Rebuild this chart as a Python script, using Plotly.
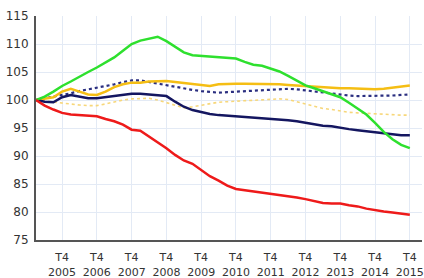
import plotly.graph_objects as go

quarters = list(range(44))  # 2005 T1 .. 2015 T4
tick_pos = [3 + 4 * k for k in range(11)]
tick_labels = ["T4<br>%d" % y for y in range(2005, 2016)]

green = [100, 100.6, 101.5, 102.5, 103.3, 104.2, 105, 105.8, 106.7, 107.6, 108.8, 110,
         110.6, 111, 111.3, 110.5, 109.5, 108.5, 108, 107.9, 107.8, 107.7, 107.6, 107.4,
         106.8, 106.3, 106.1, 105.6, 105.1, 104.3, 103.4, 102.6, 102.1, 101.6, 101.1, 100.5,
         99.5, 98.4, 97.4, 95.9, 94.3, 93, 92, 91.4]
red = [100, 99.0, 98.3, 97.7, 97.4, 97.3, 97.2, 97.1, 96.6, 96.2, 95.6, 94.7,
       94.5, 93.5, 92.5, 91.4, 90.2, 89.2, 88.6, 87.5, 86.4, 85.6, 84.7, 84.1,
       83.9, 83.7, 83.5, 83.3, 83.1, 82.9, 82.6, 82.3, 82, 81.6, 81.5, 81.5,
       81.2, 81, 80.6, 80.3, 80.1, 79.9, 79.7, 79.5]
navy = [100, 99.7, 99.6, 100.5, 100.9, 100.6, 100.3, 100.3, 100.5, 100.8, 101, 101.1,
        101.1, 101, 100.8, 100.7, 99.7, 98.8, 98.2, 97.8, 97.5, 97.3, 97.2, 97.1,
        97, 96.9, 96.8, 96.7, 96.6, 96.4, 96.2, 95.9, 95.6, 95.4, 95.3, 95,
        94.8, 94.6, 94.4, 94.2, 94, 93.8, 93.7, 93.7]
gold = [100, 100.3, 100.5, 101.5, 102, 101.5, 101, 100.9, 101.5, 102.3, 102.8, 103.1,
        103.1, 103.3, 103.4, 103.4, 103.2, 103, 102.8, 102.6, 102.5, 102.8, 102.9, 102.9,
        102.9, 102.9, 102.9, 102.9, 102.8, 102.7, 102.6, 102.5, 102.4, 102.2, 102.2, 102.1,
        102.1, 102, 102, 101.9, 102, 102.2, 102.3, 102.6]
pale = [100, 99.8, 99.6, 99.5, 99.3, 99.1, 99, 99, 99.3, 99.7, 100, 100.2,
        100.3, 100.3, 100, 99.5, 99, 98.6, 98.8, 99.1, 99.4, 99.6, 99.7, 99.8,
        99.9, 100, 100.1, 100.1, 100.2, 100.1, 99.7, 99.2, 98.8, 98.5, 98.3, 98,
        97.8, 97.7, 97.6, 97.5, 97.4, 97.3, 97.3, 97.3]
navy_dot = [100, 100.3, 100.5, 100.8, 101.2, 101.6, 101.9, 102.1, 102.4, 102.8, 103.2, 103.5,
            103.5, 103.2, 103, 102.7, 102.3, 102, 101.8, 101.6, 101.4, 101.3, 101.4, 101.5,
            101.6, 101.7, 101.8, 101.9, 102, 102, 101.9, 101.7, 101.5, 101.3, 101.2, 101,
            100.8, 100.7, 100.7, 100.7, 100.8, 100.8, 100.9, 101]

fig = go.Figure()
fig.add_trace(go.Scatter(x=quarters, y=pale, mode="lines",
                         line=dict(color="#F7D77A", width=1.6, dash="dot")))
fig.add_trace(go.Scatter(x=quarters, y=navy_dot, mode="lines",
                         line=dict(color="#2B2F80", width=2.2, dash="dot")))
fig.add_trace(go.Scatter(x=quarters, y=gold, mode="lines",
                         line=dict(color="#F5BE14", width=2.5)))
fig.add_trace(go.Scatter(x=quarters, y=navy, mode="lines",
                         line=dict(color="#141660", width=2.5)))
fig.add_trace(go.Scatter(x=quarters, y=green, mode="lines",
                         line=dict(color="#2EE02E", width=2.5)))
fig.add_trace(go.Scatter(x=quarters, y=red, mode="lines",
                         line=dict(color="#EE1A1A", width=2.5)))

fig.update_layout(
    width=424, height=278,
    margin=dict(l=36, r=2, t=16, b=38, autoexpand=False),
    paper_bgcolor="white", plot_bgcolor="white",
    showlegend=False,
    font=dict(family="DejaVu Sans, Verdana, sans-serif", size=11, color="#333333"),
    xaxis=dict(range=[0, 44.4], tickmode="array", tickvals=tick_pos, ticktext=tick_labels,
               showgrid=True, gridcolor="#E3EAF5", gridwidth=1,
               showline=True, linecolor="#555555", linewidth=2,
               ticks="", zeroline=False, ticklabelstandoff=6,
               ticklabeloverflow="allow", automargin=False,
               tickfont=dict(size=11)),
    yaxis=dict(range=[75, 115], tickmode="array", tickvals=[75, 80, 85, 90, 95, 100, 105, 110, 115],
               showgrid=True, gridcolor="#E3EAF5", gridwidth=1,
               showline=True, linecolor="#555555", linewidth=2,
               ticks="", zeroline=False, ticklabelstandoff=3,
               automargin=False, tickfont=dict(size=12)),
)

fig.write_html("out.html", config={"displayModeBar": False},
               post_script="document.body.style.margin='0';document.body.style.padding='0';")
